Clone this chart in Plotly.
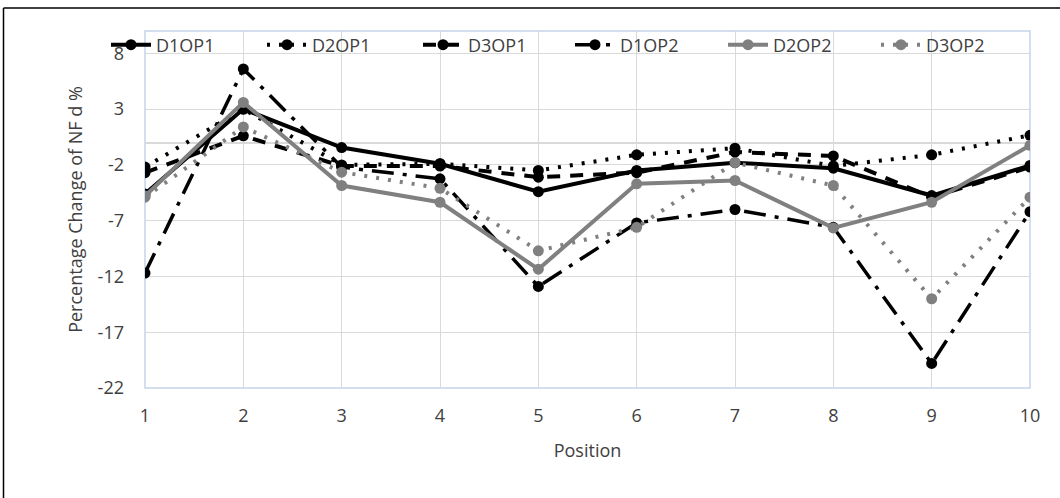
import plotly.graph_objects as go

positions = [1, 2, 3, 4, 5, 6, 7, 8, 9, 10]
series_names = ["D1OP1", "D2OP1", "D3OP1", "D1OP2", "D2OP2", "D3OP2"]

d1op1 = [-4.6, 3.0, -0.45, -1.9, -4.4, -2.5, -1.8, -2.3, -4.75, -2.05]
d2op1 = [-2.2, 3.0, -2.0, -1.9, -2.5, -1.1, -0.5, -2.1, -1.1, 0.65]
d3op1 = [-2.7, 0.6, -2.1, -2.1, -3.1, -2.7, -0.85, -1.2, -4.9, -2.2]
d1op2 = [-11.7, 6.6, -2.2, -3.25, -12.9, -7.2, -6.0, -7.6, -19.8, -6.2]
d2op2 = [-4.8, 3.6, -3.85, -5.35, -11.35, -3.7, -3.4, -7.65, -5.35, -0.25]
d3op2 = [-4.9, 1.4, -2.65, -4.1, -9.7, -7.6, -1.8, -3.85, -14.0, -4.9]

y_ticks = [-22, -17, -12, -7, -2, 3, 8]
x_ticks = positions

styles = [
    dict(color="#000000", dash="solid", width=4),
    dict(color="#000000", dash="3px,9px", width=4),
    dict(color="#000000", dash="13px,10px", width=4),
    dict(color="#000000", dash="22px,9px,4px,9px", width=3.5),
    dict(color="#808080", dash="solid", width=4),
    dict(color="#808080", dash="3px,9px", width=4),
]
values = [d1op1, d2op1, d3op1, d1op2, d2op2, d3op2]
legend_groups = ["legend", "legend", "legend", "legend2", "legend2", "legend2"]

fig = go.Figure()
for name, vals, st, lg in zip(series_names, values, styles, legend_groups):
    fig.add_trace(go.Scatter(
        x=positions, y=vals, name=name, mode="lines+markers", legend=lg,
        line=dict(color=st["color"], dash=st["dash"], width=st["width"]),
        marker=dict(symbol="circle", size=11, color=st["color"]),
    ))

font_family = "Open Sans, Noto Sans, DejaVu Sans, sans-serif"
text_color = "#404040"

# plot area: left 145, right 1030, top 31, bottom 388
L, R, T, B = 145, 1030, 31, 388
PW, PH = R - L, B - T


def px_x(px):
    return (px - L) / PW


def px_y(py):
    return (B - py) / PH


legend_common = dict(
    orientation="h", xref="container", yref="container",
    y=1 - 45 / 498, xanchor="left", yanchor="middle",
    bgcolor="rgba(0,0,0,0)", font=dict(size=18, color=text_color),
    entrywidthmode="pixels", itemwidth=40, traceorder="normal",
)

fig.update_layout(
    width=1060, height=498,
    margin=dict(l=L, r=1060 - R, t=T, b=498 - B, autoexpand=False),
    paper_bgcolor="white", plot_bgcolor="white",
    font=dict(family=font_family, size=18, color=text_color),
    showlegend=True,
    legend=dict(legend_common, x=106 / 1060, entrywidth=101),
    legend2=dict(legend_common, x=570 / 1060, entrywidth=98),
    xaxis=dict(
        range=[1, 10], tickvals=x_ticks, ticktext=[str(v) for v in x_ticks],
        showgrid=True, gridcolor="#d9d9d9", gridwidth=1,
        zeroline=False, showline=False, ticks="",
        ticklabelstandoff=15,
        title=dict(text="Position", font=dict(size=18, color=text_color), standoff=18),
    ),
    yaxis=dict(
        range=[-22, 10], tickvals=y_ticks, ticktext=[str(v) for v in y_ticks],
        showgrid=True, gridcolor="#d9d9d9", gridwidth=1,
        zeroline=True, zerolinecolor="#d9d9d9", zerolinewidth=1.5,
        showline=False, ticks="",
        ticklabelstandoff=20,
        title=dict(text="Percentage Change of NF d %", font=dict(size=18, color=text_color), standoff=10),
    ),
)

# plot area border
fig.add_shape(type="rect", xref="paper", yref="paper", x0=0, x1=1, y0=0, y1=1,
              line=dict(color="#c5d3ea", width=1.5), layer="below")
# outer chart border (top and left edges)
fig.add_shape(type="line", xref="paper", yref="paper",
              x0=px_x(3.5), x1=px_x(1060), y0=px_y(8), y1=px_y(8),
              line=dict(color="black", width=1.5))
fig.add_shape(type="line", xref="paper", yref="paper",
              x0=px_x(3.5), x1=px_x(3.5), y0=px_y(498), y1=px_y(8),
              line=dict(color="black", width=1.5))

fig.write_html(
    "out.html",
    config={"displayModeBar": False},
    post_script="document.body.style.margin='0';document.body.style.overflow='hidden';",
)
